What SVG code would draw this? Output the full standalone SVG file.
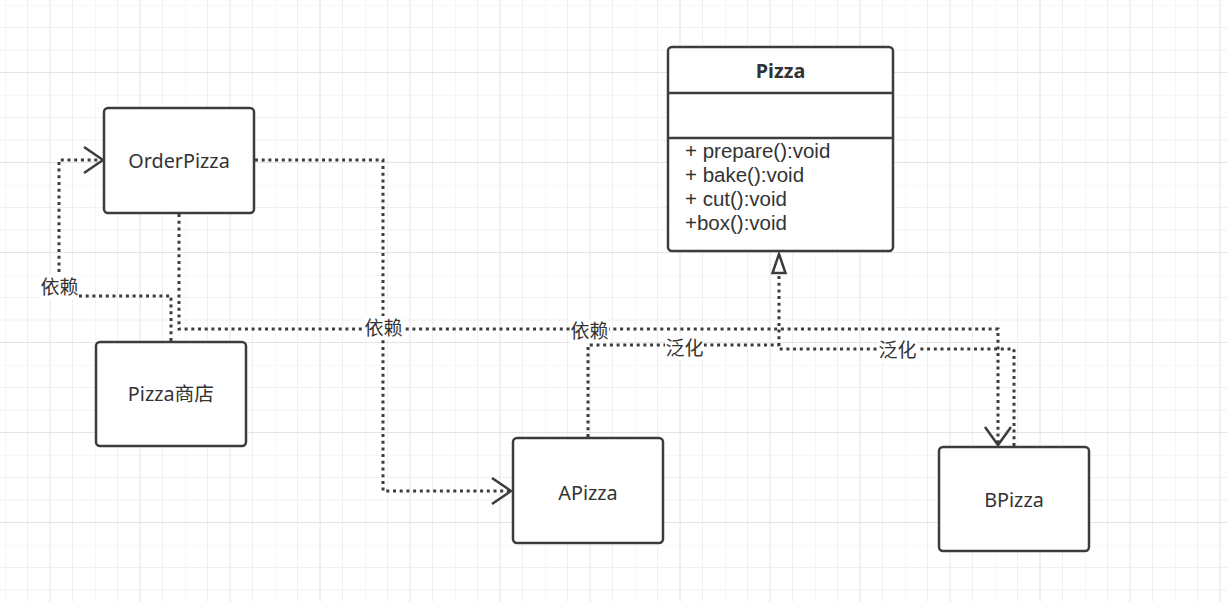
<svg xmlns="http://www.w3.org/2000/svg" width="1227" height="602" viewBox="0 0 1227 602">
<style>
.node{fill:#fff;stroke:#3c3c3c;stroke-width:2.5}
.t{font-family:"Noto Sans","Noto Sans CJK SC",sans-serif;font-size:19.8px;fill:#333}
.m{font-family:"Liberation Sans",Arial,sans-serif;font-size:20.5px;fill:#333}
.lbl{font-family:"Noto Sans CJK SC","Noto Sans",sans-serif;font-size:19px;fill:#333}
.c{fill:none;stroke:#3c3c3c;stroke-width:3;stroke-dasharray:3 3.7}
.ah{fill:none;stroke:#3c3c3c;stroke-width:2.5}
.tri{fill:#fff;stroke:#3c3c3c;stroke-width:2.5}
.grid-minor{stroke:#f0f0f0;stroke-width:1}
.grid-major{stroke:#e4e4e4;stroke-width:1}
</style>
<defs>
<pattern id="grid" x="5" y="5" width="90" height="90" patternUnits="userSpaceOnUse">
<path class="grid-minor" d="M0,0V90M22.5,0V90M67.5,0V90M0,0H90M0,22.5H90M0,45H90"/>
<path class="grid-major" d="M45,0V90M0,67.5H90"/>
</pattern>
</defs>
<rect width="1227" height="602" fill="#fff"/>
<rect width="1227" height="602" fill="url(#grid)"/>

<g id="connectors">
<!-- Pizza商店 -> OrderPizza 依赖 -->
<path class="c" d="M171,341 V296 H59 V160 H102"/>
<path class="ah" d="M84,147 L103,160 L84,173"/>
<!-- OrderPizza -> APizza 依赖 -->
<path class="c" d="M255,160 H383 V491 H510"/>
<path class="ah" d="M492,478 L511,491 L492,504"/>
<!-- OrderPizza -> BPizza 依赖 -->
<path class="c" d="M179,214 V329 H998 V444"/>
<path class="ah" d="M985,427 L998,445 L1011,427"/>
<!-- APizza -> Pizza 泛化 -->
<path class="c" d="M588,437 V345 H779"/>
<!-- BPizza -> Pizza 泛化 -->
<path class="c" d="M1014,446 V349 H779 V274"/>
<path class="tri" d="M779,254 L772.5,273 L785.5,273 Z"/>
<!-- labels -->
<rect x="40" y="275" width="39" height="24" fill="#fff"/>
<text class="lbl" x="59.5" y="294" text-anchor="middle">依赖</text>
<rect x="364" y="316" width="39" height="24" fill="#fff"/>
<text class="lbl" x="383.5" y="335" text-anchor="middle">依赖</text>
<rect x="570" y="319" width="39" height="24" fill="#fff"/>
<text class="lbl" x="589.5" y="338" text-anchor="middle">依赖</text>
<rect x="665" y="336" width="39" height="24" fill="#fff"/>
<text class="lbl" x="684.5" y="355" text-anchor="middle">泛化</text>
<rect x="878" y="338" width="39" height="24" fill="#fff"/>
<text class="lbl" x="897.5" y="357" text-anchor="middle">泛化</text>
</g>

<g id="OrderPizza">
<rect class="node" x="104" y="108" width="150" height="105" rx="4"/>
<text class="t" x="179" y="168" text-anchor="middle">OrderPizza</text>
</g>
<g id="PizzaStore">
<rect class="node" x="96" y="342" width="150" height="104" rx="4"/>
<text class="t" x="171" y="401" text-anchor="middle">Pizza商店</text>
</g>
<g id="APizza">
<rect class="node" x="513" y="438" width="150" height="105" rx="4"/>
<text class="t" x="588" y="500" text-anchor="middle">APizza</text>
</g>
<g id="BPizza">
<rect class="node" x="939" y="447" width="150" height="104" rx="4"/>
<text class="t" x="1014" y="507" text-anchor="middle">BPizza</text>
</g>
<g id="Pizza">
<rect class="node" x="668" y="47" width="225" height="204" rx="4"/>
<path class="node" d="M668,93 H893 M668,138 H893"/>
<text class="t" x="780.5" y="78" text-anchor="middle" font-weight="bold">Pizza</text>
<text class="m" x="685" y="158">+ prepare():void</text>
<text class="m" x="685" y="182">+ bake():void</text>
<text class="m" x="685" y="206">+ cut():void</text>
<text class="m" x="685" y="230">+box():void</text>
</g>
</svg>
